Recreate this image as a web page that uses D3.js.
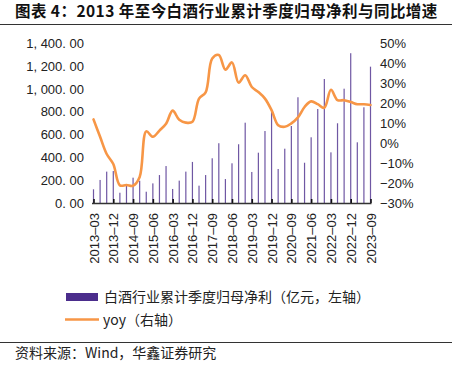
<!DOCTYPE html>
<html><head><meta charset="utf-8">
<script src="https://cdn.jsdelivr.net/npm/d3@7"></script>
<style>
html,body{margin:0;padding:0;background:#fff;}
svg{display:block;}
</style></head>
<body>
<script>
const quarters = ["2013-03","2013-06","2013-09","2013-12","2014-03","2014-06","2014-09","2014-12","2015-03","2015-06","2015-09","2015-12","2016-03","2016-06","2016-09","2016-12","2017-03","2017-06","2017-09","2017-12","2018-03","2018-06","2018-09","2018-12","2019-03","2019-06","2019-09","2019-12","2020-03","2020-06","2020-09","2020-12","2021-03","2021-06","2021-09","2021-12","2022-03","2022-06","2022-09","2022-12","2023-03","2023-06","2023-09"];
const profit = [120,202,275,280,90,149,222,195,99,172,245,324,123,196,275,360,152,245,392,524,210,348,515,704,272,441,631,801,298,476,675,927,353,576,824,1087,444,699,1002,1313,532,839,1195];
const yoy = [11.8,3.1,-5.5,-10.5,-21.2,-21,-21.4,-17,5.8,3.1,6.2,9.6,16.2,11.6,10.2,10.6,22.2,25.3,42.2,44,36.7,40.3,30.2,33.9,28,25.5,22.2,16.4,8.9,8.1,9.8,12.8,18,20.8,19.4,17.6,26.6,21.4,21.4,20.5,19.4,19.4,19];
const leftTicks = [0,200,400,600,800,1000,1200,1400];
const rightTicks = [-30,-20,-10,0,10,20,30,40,50];
const xTickLabels = quarters.filter((d,i)=>i%3===0);
const title = "图表 4：2013 年至今白酒行业累计季度归母净利与同比增速";
const legendBar = "白酒行业累计季度归母净利（亿元，左轴）";
const legendLine = "yoy（右轴）";
const source = "资料来源：Wind，华鑫证券研究";

const W = 452, H = 371;
const svg = d3.select("body").append("svg").attr("width", W).attr("height", H);
svg.append("rect").attr("width", W).attr("height", H).attr("fill", "#fff");

const cjk = "'Noto Sans CJK SC', sans-serif";
const latin = "'Liberation Sans', Arial, sans-serif";

svg.append("text").attr("x", 15).attr("y", 17).text(title)
  .attr("font-family", cjk).attr("font-weight", "bold").attr("font-size", 15.5)
  .attr("letter-spacing", 0.45).attr("fill", "#111");
svg.append("line").attr("x1", 0).attr("x2", 452).attr("y1", 24.5).attr("y2", 24.5)
  .attr("stroke", "#333").attr("stroke-width", 1.2);

const x = d3.scalePoint().domain(quarters).range([93.5, 370.5]);
const yL = d3.scaleLinear().domain([0, 1400]).range([203, 43.3]);
const yR = d3.scaleLinear().domain([-30, 50]).range([203, 43]);

const barColor = "#4B2D8C";
const lineColor = "#F79646";

// bars
svg.append("g").selectAll("rect").data(quarters).join("rect")
  .attr("x", d => x(d) - 0.6).attr("width", 1.2)
  .attr("y", (d,i) => yL(profit[i])).attr("height", (d,i) => yL(0) - yL(profit[i]))
  .attr("fill", barColor).attr("fill-opacity", 0.8);

// x axis baseline + ticks
const xAxis = d3.axisBottom(x).tickValues(xTickLabels).tickSize(0).tickFormat(d => d.replace("-", "–"));
const gx = svg.append("g").attr("transform", `translate(0,${yL(0)})`).call(xAxis);
gx.select(".domain").remove();
gx.append("line").attr("x1", 92).attr("x2", 371.5).attr("y1", 0.5).attr("y2", 0.5).attr("stroke", "#333").attr("stroke-width", 1.3);
gx.selectAll(".tick").append("line").attr("y1", 0).attr("y2", -4).attr("stroke", "#111").attr("stroke-width", 1.6);
gx.selectAll(".tick text")
  .attr("font-family", latin).attr("font-size", 13).attr("fill", "#222")
  .attr("transform", "rotate(-90)").attr("text-anchor", "end")
  .attr("x", -10).attr("y", 0).attr("dy", "0.35em");

// left axis
const yAxisL = d3.axisLeft(yL).tickValues(leftTicks).tickSize(0)
  .tickFormat(d => d3.format(",.2f")(d).replace(",", ", ").replace(".", ". "));
const gl = svg.append("g").attr("transform", "translate(84,0)").call(yAxisL);
gl.select(".domain").remove();
gl.selectAll(".tick text").attr("font-family", latin).attr("font-size", 13).attr("fill", "#222").attr("x", 0);

// right axis
const yAxisR = d3.axisRight(yR).tickValues(rightTicks).tickSize(0)
  .tickFormat(d => (d < 0 ? "−" + Math.abs(d) : d) + "%");
const gr = svg.append("g").attr("transform", "translate(380,0)").call(yAxisR);
gr.select(".domain").remove();
gr.selectAll(".tick text").attr("font-family", latin).attr("font-size", 13).attr("fill", "#222").attr("x", 0);

// line
const line = d3.line().x((d,i) => x(quarters[i])).y(d => yR(d)).curve(d3.curveCatmullRom.alpha(0.5));
svg.append("path").datum(yoy).attr("d", line).attr("fill", "none")
  .attr("stroke", lineColor).attr("stroke-width", 2.6).attr("stroke-linejoin", "round").attr("stroke-linecap", "round");

// legend
svg.append("rect").attr("x", 66).attr("y", 293).attr("width", 32).attr("height", 8).attr("fill", barColor);
svg.append("text").attr("x", 104).attr("y", 297).attr("dy", "0.35em").text(legendBar)
  .attr("font-family", cjk).attr("font-size", 14).attr("fill", "#222");
svg.append("line").attr("x1", 65).attr("x2", 99).attr("y1", 319.5).attr("y2", 319.5)
  .attr("stroke", lineColor).attr("stroke-width", 2.6);
svg.append("text").attr("x", 103).attr("y", 320).attr("dy", "0.35em").text(legendLine)
  .attr("font-family", cjk).attr("font-size", 14).attr("fill", "#222");

// source
svg.append("line").attr("x1", 0).attr("x2", 452).attr("y1", 342.5).attr("y2", 342.5)
  .attr("stroke", "#333").attr("stroke-width", 1.2);
svg.append("text").attr("x", 15).attr("y", 353).attr("dy", "0.35em").text(source)
  .attr("font-family", cjk).attr("font-size", 14).attr("fill", "#222");
</script>
</body></html>
